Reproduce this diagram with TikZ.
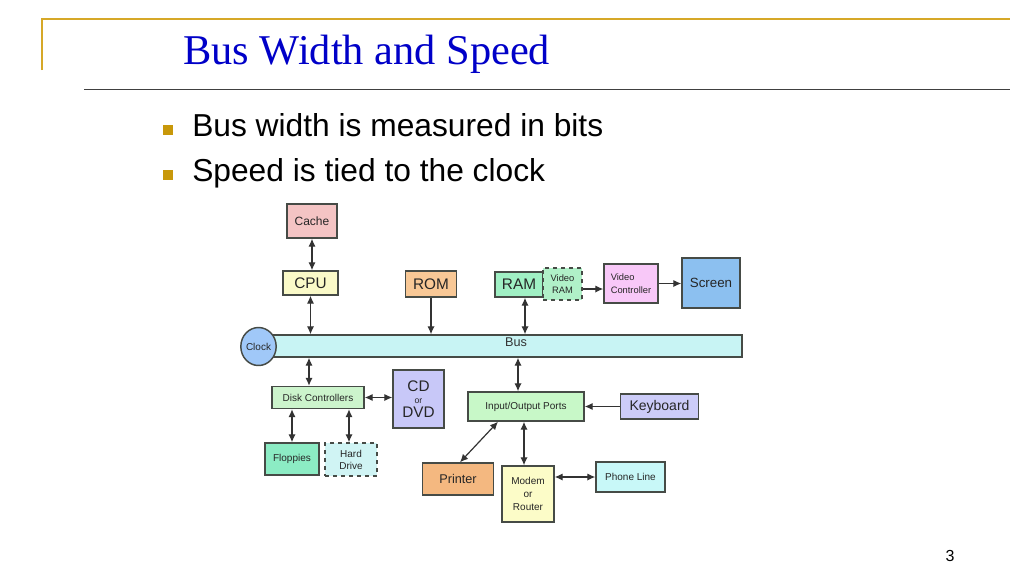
\documentclass[tikz,border=0pt]{standalone}
\usepackage{fontspec}
\setmainfont{Liberation Sans}
\newfontfamily\titlefont{Liberation Serif}
\usetikzlibrary{arrows.meta,shapes.geometric,calc}

\definecolor{goldline}{RGB}{214,168,40}
\definecolor{goldbul}{RGB}{200,152,10}
\definecolor{titleblue}{RGB}{0,0,200}
\definecolor{edge}{RGB}{70,75,70}
\definecolor{cCache}{RGB}{244,196,196}
\definecolor{cCPU}{RGB}{250,250,200}
\definecolor{cROM}{RGB}{248,200,150}
\definecolor{cRAM}{RGB}{160,240,196}
\definecolor{cVRAM}{RGB}{176,240,200}
\definecolor{cVC}{RGB}{248,200,248}
\definecolor{cScreen}{RGB}{140,192,240}
\definecolor{cBus}{RGB}{200,244,244}
\definecolor{cClock}{RGB}{160,200,248}
\definecolor{cDisk}{RGB}{204,244,204}
\definecolor{cCD}{RGB}{200,200,248}
\definecolor{cFlop}{RGB}{140,236,196}
\definecolor{cHDD}{RGB}{208,244,244}
\definecolor{cIO}{RGB}{200,248,200}
\definecolor{cKbd}{RGB}{204,204,248}
\definecolor{cPrinter}{RGB}{244,184,128}
\definecolor{cModem}{RGB}{252,252,200}
\definecolor{cPhone}{RGB}{200,248,248}

\begin{document}
\begin{tikzpicture}[x=0.75pt,y=-0.75pt,
  box/.style={draw=edge, line width=1.1pt, inner sep=1pt, align=center, text=black!85},
  bx/.style 2 args={minimum width=#1*0.75pt, minimum height=#2*0.75pt},
  fs/.style={font=\fontsize{#1}{#1}\selectfont},
  link/.style={draw=black!80, line width=0.9pt},
  dbl/.style={link, {Latex[length=6pt,width=5.5pt]}-{Latex[length=6pt,width=5.5pt]}},
  sgl/.style={link, -{Latex[length=6pt,width=5.5pt]}},
  bullet/.style={fill=goldbul, minimum size=7.5pt, inner sep=0pt},
  btext/.style={anchor=base west, inner sep=0pt, font=\fontsize{23.8}{28}\selectfont}
]
\useasboundingbox (0,0) rectangle (1024,576);
\fill[white] (0,0) rectangle (1024,576);

% header lines
\draw[goldline, line width=1.2pt] (42,70) -- (42,19) -- (1010,19);
\draw[black!75, line width=0.9pt] (84,89.3) -- (1010,89.3);

% title
\node[anchor=base west, inner sep=0pt, text=titleblue,
      font=\titlefont\fontsize{31.8}{36}\selectfont] (title) at (183,64) {Bus Width and Speed};

% bullets
\node[bullet] (b1) at (168,130) {};
\node[btext] (t1) at (192,136.7) {Bus width is measured in bits};
\node[bullet] (b2) at (168,175) {};
\node[btext] (t2) at (192,181.7) {Speed is tied to the clock};

% page number
\node[fs=12] (pnum) at (950,556) {3};

% ---- diagram nodes ----
\node[box, fill=cCache, bx={50}{34}, fs=9] (cache) at (312,221) {Cache};
\node[box, fill=cCPU, bx={55}{24}, fs=11.5] (cpu) at (310.5,283) {CPU};
\node[box, fill=cROM, bx={51}{26}, fs=11.5] (rom) at (431,284) {ROM};
\node[box, fill=cRAM, bx={48}{25}, fs=11.5] (ram) at (519,284.5) {RAM};
\node[box, fill=cVRAM, bx={39}{32}, font=\fontsize{7}{9}\selectfont, dashed] (vram) at (562.5,284) {Video\\RAM};
\node[box, fill=cVC, bx={54}{39}, font=\fontsize{7}{9.5}\selectfont, align=left] (vc) at (631,283.5) {Video\\Controller};
\node[box, fill=cScreen, bx={58}{50}, fs=10] (screen) at (711,283) {Screen};

\node[box, fill=cBus, bx={470}{22}] (bus) at (507,346) {};
\node[fs=9.5, text=black!80] (buslabel) at (516,342) {Bus};
\node[box, ellipse, fill=cClock, bx={34}{38}, inner sep=0pt, fs=7.5] (clock) at (258.5,346.5) {Clock};

\node[box, fill=cDisk, bx={92}{22}, fs=7.5] (disk) at (318,397.5) {Disk Controllers};
\node[box, fill=cCD, bx={51}{58}, inner sep=0pt] (cd) at (418.5,399)
  {{\fontsize{11.5}{12}\selectfont CD}\\[-3pt]{\fontsize{6.5}{7}\selectfont or}\\[-2pt]{\fontsize{11.5}{12}\selectfont DVD}};
\node[box, fill=cFlop, bx={54}{32}, fs=7.5] (flop) at (292,459) {Floppies};
\node[box, fill=cHDD, bx={52}{33}, font=\fontsize{7.5}{9}\selectfont, dashed] (hdd) at (351,459.5) {Hard\\Drive};

\node[box, fill=cIO, bx={116}{29}, fs=7.5] (io) at (526,406.5) {Input/Output Ports};
\node[box, fill=cKbd, bx={78}{25}, fs=10.5] (kbd) at (659.5,406.5) {Keyboard};
\node[box, fill=cPrinter, bx={71}{32}, fs=9.5] (printer) at (458,479) {Printer};
\node[box, fill=cModem, bx={52}{56}, font=\fontsize{7.5}{10}\selectfont] (modem) at (528,494) {Modem\\or\\Router};
\node[box, fill=cPhone, bx={69}{30}, fs=7.5] (phone) at (630.5,477) {Phone Line};

% ---- connectors ----
\draw[dbl] (cache.south) -- (cache.south |- cpu.north);
\draw[dbl] (cpu.south) -- (cpu.south |- bus.north);
\draw[sgl] (rom.south) -- (rom.south |- bus.north);
\coordinate (ramx) at ($(ram.south)+(6,0)$);
\draw[dbl] (ramx) -- (ramx |- bus.north);
\coordinate (vr) at ($(vram.east)+(0,5)$);
\draw[sgl] (vr) -- (vr -| vc.west);
\draw[sgl] (vc.east) -- (vc.east -| screen.west);

\coordinate (dkx) at ($(disk.north)+(-9,0)$);
\draw[dbl] (bus.south -| dkx) -- (dkx);
\draw[dbl] (disk.east) -- (disk.east -| cd.west);
\draw[dbl] (disk.south -| flop.north) -- (flop.north);
\coordinate (hdx) at ($(hdd.north)+(-2,0)$);
\draw[dbl] (disk.south -| hdx) -- (hdx);

\coordinate (iox) at ($(io.north)+(-8,0)$);
\draw[dbl] (bus.south -| iox) -- (iox);
\draw[sgl] (kbd.west) -- (kbd.west -| io.east);
\coordinate (iop) at ($(io.south)+(-28,0)$);
\coordinate (prp) at ($(printer.north)+(2,0)$);
\draw[dbl] (iop) -- (prp);
\coordinate (iom) at ($(io.south)+(-2,0)$);
\draw[dbl] (iom) -- (iom |- modem.north);
\draw[dbl] (modem.east |- phone.west) -- (phone.west);
\end{tikzpicture}
\end{document}
